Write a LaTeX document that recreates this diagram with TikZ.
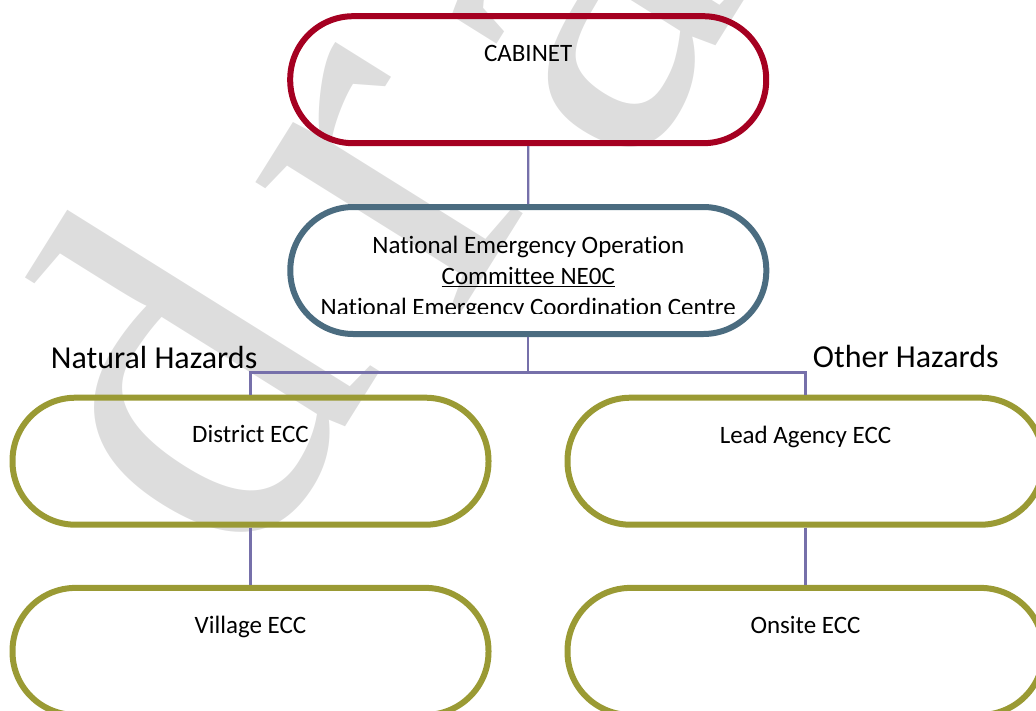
\documentclass[tikz,border=0pt]{standalone}
\usepackage{fontspec}
\setmainfont{Carlito}[Ligatures={NoCommon,NoContextual}]
\newfontfamily\wmfont{Liberation Serif}
\definecolor{cabred}{RGB}{165,0,33}
\definecolor{neocblue}{RGB}{75,108,128}
\definecolor{olivebox}{RGB}{154,154,52}
\definecolor{linkc}{RGB}{118,112,170}
\definecolor{wmgray}{RGB}{221,221,221}
\newcommand\ulx[1]{\setbox0\hbox{#1}\rlap{\rule[-3.4pt]{\wd0}{1.3pt}}\box0}
\tikzset{
  pill/.style={draw=#1, line width=6pt, rounded corners=63pt,
    minimum width=476pt, minimum height=127pt, inner sep=0pt},
  boxtxt/.style={anchor=base, inner sep=0pt, font=\fontsize{25}{30.5}\selectfont},
  hazard/.style={anchor=base west, inner sep=0pt, font=\fontsize{32}{39}\selectfont},
  link/.style={draw=linkc, line width=2.2pt},
  wmark/.style={anchor=base west, inner sep=0pt, outer sep=0pt, rotate=58,
    text=wmgray, font=\wmfont\fontsize{#1}{#1}\selectfont},
  wmark/.default=530
}
\begin{document}
\begin{tikzpicture}[x=1pt, y=-1pt]
\useasboundingbox (0,0) rectangle (1036,710);
\clip (0,0) rectangle (1036,710);
% watermark
\node[wmark=505] (wmd) at (249,580) {d};
\node[wmark] (wmr) at (456,320) {r};
\node[wmark] (wma) at (630,182) {a};
\node[wmark] (wmf) at (755,-18) {ft};
% boxes
\node[pill=cabred]   (cab)  at (528.2,79.7)  {};
\node[pill=neocblue] (neoc) at (528.3,270.5) {};
\node[pill=olivebox] (dist) at (250.5,461.2) {};
\node[pill=olivebox] (vill) at (250.5,651.4) {};
\node[pill=olivebox] (lead) at (805.5,461.2) {};
\node[pill=olivebox] (onsi) at (805.5,651.4) {};
% texts
\node[boxtxt] (tcab) at (528.2,61) {CABINET};
\node[boxtxt] (tn1) at (528.3,253) {National Emergency Operation};
\node[boxtxt] (tn2) at (528.3,284) {\ulx{Committee NE0C}};
\begin{scope}
\clip (280,200) rectangle (780,313.3);
\node[boxtxt] (tn3) at (528.3,315) {National Emergency Coordination Centre};
\end{scope}
\node[boxtxt] (tdist) at (250.5,442) {District ECC};
\node[boxtxt] (tvill) at (250.5,633) {Village ECC};
\node[boxtxt] (tlead) at (805.5,443) {Lead Agency ECC};
\node[boxtxt] (tonsi) at (805.5,633) {Onsite ECC};
\node[hazard] (nat) at (50.7,368) {Natural Hazards};
\node[hazard] (oth) at (812.7,367) {Other Hazards};
% connectors
\coordinate (j) at (528.3,372.5);
\draw[link] (cab.south) -- (neoc.north);
\draw[link] (neoc.south) -- (j);
\draw[link] (dist.north) |- (j) -| (lead.north);
\draw[link] (dist.south) -- (vill.north);
\draw[link] (lead.south) -- (onsi.north);
\end{tikzpicture}
\end{document}
